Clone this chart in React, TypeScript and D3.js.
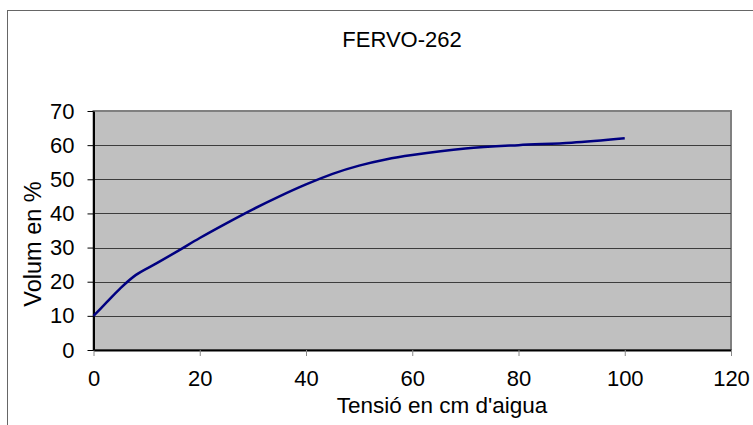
import { select, scaleLinear, axisBottom, axisLeft, line, curveCatmullRom } from "d3";
import { useEffect, useRef } from "react";

const tension = [0, 2.5, 5, 8, 12, 16, 20, 25, 30, 35, 40, 45, 50, 55, 60, 70, 80, 90, 100];
const volum = [10, 14, 18, 22, 25.5, 29.1, 32.8, 37.1, 41.2, 45, 48.5, 51.6, 54, 55.8, 57.1, 59, 60, 60.7, 62];

const xTicks = [0, 20, 40, 60, 80, 100, 120];
const yTicks = [0, 10, 20, 30, 40, 50, 60, 70];

const chartTitle = "FERVO-262";
const xTitle = "Tensió en cm d'aigua";
const yTitle = "Volum en %";

const App = () => {
  const ref = useRef<SVGSVGElement>(null);

  useEffect(() => {
    const vis = select(ref.current);
    vis.selectAll("*").remove();

    const WIDTH = 753,
      HEIGHT = 425,
      MARGINS = { top: 111, right: 22, bottom: 75, left: 93.5 };
    const FONT = "Arial, 'Liberation Sans', sans-serif";

    const xScale = scaleLinear().domain([0, 120]).range([MARGINS.left, WIDTH - MARGINS.right]);
    const yScale = scaleLinear().domain([0, 70]).range([HEIGHT - MARGINS.bottom, MARGINS.top]);

    // outer chart border
    vis.append("rect")
      .attr("x", 7.5).attr("y", 10.5)
      .attr("width", 800).attr("height", 500)
      .attr("fill", "#fff").attr("stroke", "#666").attr("stroke-width", 1);

    // plot area
    vis.append("rect")
      .attr("x", xScale(0)).attr("y", yScale(70))
      .attr("width", xScale(120) - xScale(0)).attr("height", yScale(0) - yScale(70))
      .attr("fill", "#c0c0c0").attr("stroke", "#808080").attr("stroke-width", 2);

    // grid
    vis.append("g")
      .selectAll("line")
      .data(yTicks.filter((d) => d > 0 && d < 70))
      .join("line")
      .attr("x1", xScale(0)).attr("x2", xScale(120))
      .attr("y1", (d) => Math.round(yScale(d)) + 0.5).attr("y2", (d) => Math.round(yScale(d)) + 0.5)
      .attr("stroke", "#3c3c3c").attr("stroke-width", 1);

    const xAxis = axisBottom(xScale).tickValues(xTicks).tickSize(6).tickSizeOuter(0).tickPadding(8);
    const yAxis = axisLeft(yScale).tickValues(yTicks).tickSize(6).tickSizeOuter(0).tickPadding(13);

    const gx = vis.append("g")
      .attr("transform", "translate(0," + yScale(0) + ")")
      .call(xAxis);
    gx.select(".domain").attr("stroke", "#000").attr("stroke-width", 2);
    gx.selectAll(".tick line").attr("stroke", "#888");
    gx.selectAll(".tick text")
      .attr("font-family", FONT).attr("font-size", 22).attr("fill", "#000").attr("dy", "1em");

    const gy = vis.append("g")
      .attr("transform", "translate(" + xScale(0) + ",0)")
      .call(yAxis);
    gy.select(".domain").attr("stroke", "#000").attr("stroke-width", 2);
    gy.selectAll(".tick line").attr("stroke", "#000");
    gy.selectAll(".tick text")
      .attr("font-family", FONT).attr("font-size", 22).attr("fill", "#000");

    const lineGen = line<number>()
      .x((d, i) => xScale(tension[i]))
      .y((d) => yScale(d))
      .curve(curveCatmullRom);

    vis.append("path")
      .attr("d", lineGen(volum))
      .attr("stroke", "#000080")
      .attr("stroke-width", 2.5)
      .attr("fill", "none");

    vis.append("text")
      .attr("x", 402).attr("y", 47)
      .attr("text-anchor", "middle")
      .attr("font-family", FONT).attr("font-size", 22)
      .text(chartTitle);

    vis.append("text")
      .attr("x", 442).attr("y", 413)
      .attr("text-anchor", "middle")
      .attr("font-family", FONT).attr("font-size", 22.5)
      .text(xTitle);

    vis.append("text")
      .attr("transform", "translate(41," + 244 + ") rotate(-90)")
      .attr("text-anchor", "middle")
      .attr("font-family", FONT).attr("font-size", 23.5)
      .text(yTitle);
  });

  return (
    <svg
      ref={ref}
      width={753}
      height={425}
      style={{ position: "absolute", left: 0, top: 0, background: "#fff" }}
    ></svg>
  );
};

export default App;
